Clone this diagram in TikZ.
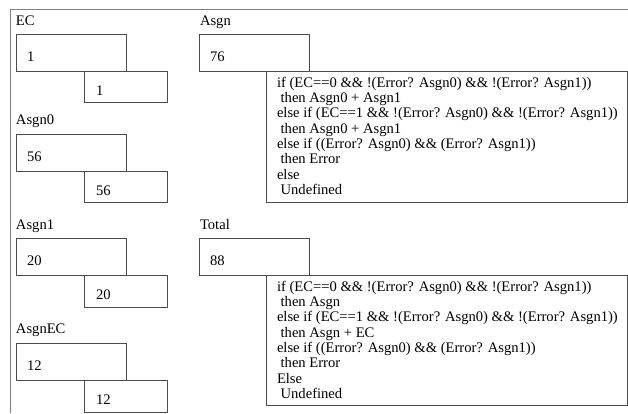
\documentclass[tikz,border=0pt]{standalone}
\usepackage{fontspec}
\setmainfont{Liberation Serif}
\begin{document}
\begin{tikzpicture}[x=1pt,y=-1pt,
  every node/.style={inner sep=0pt, outer sep=0pt, font=\fontsize{14.6}{15.3}\selectfont},
  frame/.style={draw=black!50, line width=0.9pt},
  valbox/.style={draw=black!70, line width=0.9pt, fill=white, anchor=north west,
                 minimum width=#1},
  varlabel/.style={anchor=base west},
  valtext/.style={anchor=west, yshift=-4pt},
  rule/.style={anchor=north west, align=left}]
\useasboundingbox (0,0) rectangle (628,413);
\fill[white] (0,0) rectangle (628,413);
% outer frame (top and left edges)
\draw[frame] (628,9) -- (10.5,9) -- (10.5,413);

% ---- EC ----
\node[varlabel] (lEC) at (16,25) {EC};
\node[valbox=110pt, minimum height=37pt] (ec1) at (16,34) {};
\node[valbox=83pt, minimum height=31pt] (ec2) at (84,71) {};
\node[valtext, xshift=11pt] (tec1) at (ec1.west) {1};
\node[valtext, xshift=12pt] (tec2) at (ec2.west) {1};

% ---- Asgn0 ----
\node[varlabel] (lA0) at (16,124) {Asgn0};
\node[valbox=110pt, minimum height=37pt] (a01) at (16,134) {};
\node[valbox=83pt, minimum height=31pt] (a02) at (84,171) {};
\node[valtext, xshift=11pt] (ta01) at (a01.west) {56};
\node[valtext, xshift=12pt] (ta02) at (a02.west) {56};

% ---- Asgn1 ----
\node[varlabel] (lA1) at (16,229) {Asgn1};
\node[valbox=110pt, minimum height=37pt] (a11) at (16,238) {};
\node[valbox=83pt, minimum height=32pt] (a12) at (84,275) {};
\node[valtext, xshift=11pt] (ta11) at (a11.west) {20};
\node[valtext, xshift=12pt] (ta12) at (a12.west) {20};

% ---- AsgnEC ----
\node[varlabel] (lAEC) at (16,333) {AsgnEC};
\node[valbox=110pt, minimum height=37pt] (aec1) at (16,343) {};
\node[valbox=83pt, minimum height=32pt] (aec2) at (84,380) {};
\node[valtext, xshift=11pt] (taec1) at (aec1.west) {12};
\node[valtext, xshift=12pt] (taec2) at (aec2.west) {12};

% ---- Asgn ----
\node[varlabel] (lAsgn) at (200,25) {Asgn};
\node[valbox=361pt, minimum height=131pt] (asgnF) at (266,71) {};
\node[valbox=110pt, minimum height=37pt] (asgn) at (199,34) {};
\node[valtext, xshift=11pt] (tasgn) at (asgn.west) {76};
\node[rule] (rasgn) at (277,77) {%
if (EC==0 \&\& !(Error? Asgn0) \&\& !(Error? Asgn1))\\
\ then Asgn0 + Asgn1\\
else if (EC==1 \&\& !(Error? Asgn0) \&\& !(Error? Asgn1))\\
\ then Asgn0 + Asgn1\\
else if ((Error? Asgn0) \&\& (Error? Asgn1))\\
\ then Error\\
else\\
\ Undefined};

% ---- Total ----
\node[varlabel] (lTotal) at (200,229) {Total};
\node[valbox=361pt, minimum height=130pt] (totalF) at (266,275) {};
\node[valbox=110pt, minimum height=37pt] (total) at (199,238) {};
\node[valtext, xshift=11pt] (ttotal) at (total.west) {88};
\node[rule] (rtotal) at (277,281) {%
if (EC==0 \&\& !(Error? Asgn0) \&\& !(Error? Asgn1))\\
\ then Asgn\\
else if (EC==1 \&\& !(Error? Asgn0) \&\& !(Error? Asgn1))\\
\ then Asgn + EC\\
else if ((Error? Asgn0) \&\& (Error? Asgn1))\\
\ then Error\\
Else\\
\ Undefined};
\end{tikzpicture}
\end{document}
